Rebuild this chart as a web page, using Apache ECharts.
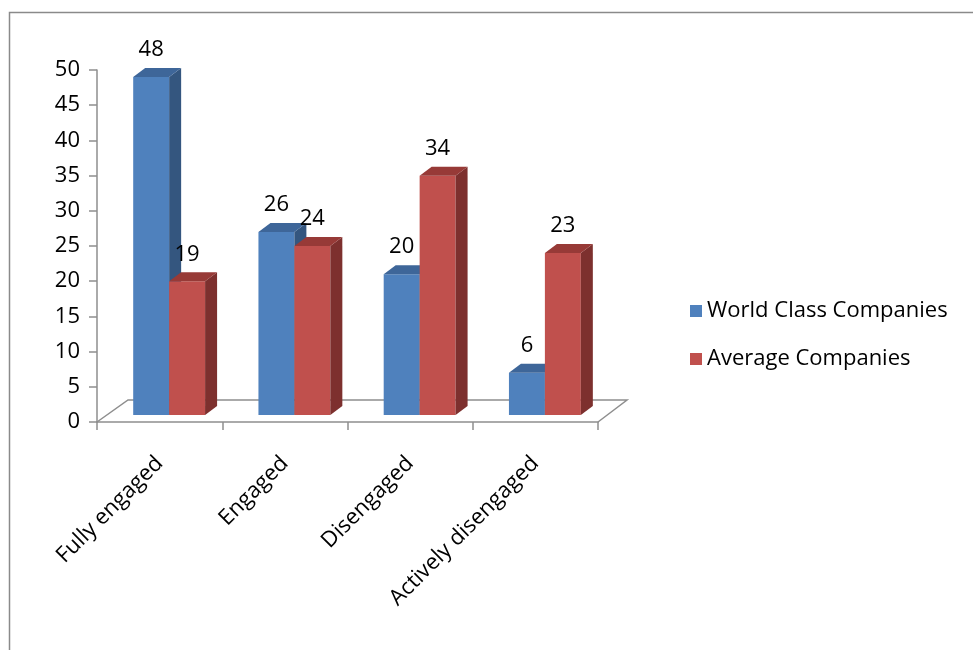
<!DOCTYPE html>
<html><head><meta charset="utf-8">
<script src="https://cdn.jsdelivr.net/npm/echarts@6/dist/echarts.min.js"></script>
<style>html,body{margin:0;padding:0;background:#fff}#c{width:973px;height:650px}</style>
</head><body><div id="c"></div>
<script>
const categories = ['Fully engaged', 'Engaged', 'Disengaged', 'Actively disengaged'];
const worldClass = [48, 26, 20, 6];
const average = [19, 24, 34, 23];
const seriesNames = ['World Class Companies', 'Average Companies'];
const yMin = 0, yMax = 50, yInterval = 5;

const FONT = 'Open Sans';
const FS = 22;
const faces = [
  {front: '#4F81BD', side: '#34567F', top: '#3E6699'},
  {front: '#C0504D', side: '#7D302E', top: '#973A37'}
];

function makeBar(k) {
  return function (params, api) {
    const idx = api.value(0), v = api.value(1);
    const band = api.size([1, 0])[0];
    const c = api.coord([idx, 0]);
    const t = api.coord([idx, v]);
    const w = band * 0.287;
    const sx = band * 0.076, sy = -7;
    const dx = 12, dy = -9;
    const x0 = c[0] + sx + (k === 0 ? -w : 0);
    const yb = c[1] + sy, yt = t[1] + sy;
    const f = faces[k];
    return {
      type: 'group',
      children: [
        {type: 'rect', shape: {x: x0, y: yt, width: w, height: yb - yt}, style: {fill: f.front}},
        {type: 'polygon', shape: {points: [[x0 + w, yt], [x0 + w + dx, yt + dy], [x0 + w + dx, yb + dy], [x0 + w, yb]]}, style: {fill: f.side}},
        {type: 'polygon', shape: {points: [[x0, yt], [x0 + dx, yt + dy], [x0 + w + dx, yt + dy], [x0 + w, yt]]}, style: {fill: f.top}},
        {type: 'text', style: {text: String(v), x: x0 + w / 2, y: yt + dy - 7, textAlign: 'center', textVerticalAlign: 'bottom', fill: '#000', font: FS + 'px "' + FONT + '"'}}
      ]
    };
  };
}

function floorItem(params, api) {
  const cs = params.coordSys;
  const x = cs.x, y = cs.y, w = cs.width, h = cs.height;
  const bx = 31, by = -22;
  const st = {stroke: '#8E8E8E', lineWidth: 1.5, fill: null};
  return {
    type: 'group',
    children: [
      {type: 'polyline', shape: {points: [[x, y + h], [x + bx, y + h + by], [x + w + bx - 2, y + h + by], [x + w, y + h]]}, style: st}
    ]
  };
}

const chart = echarts.init(document.getElementById('c'), null, {renderer: 'canvas'});
chart.setOption({
  animation: false,
  backgroundColor: '#fff',
  textStyle: {fontFamily: FONT},
  graphic: [{type: 'rect', left: 7, top: 10, shape: {width: 1000, height: 700}, style: {fill: null, stroke: '#8A8A8A', lineWidth: 1.5}, z: -1}],
  grid: {left: 97, right: 375, top: 70, bottom: 228},
  legend: {
    orient: 'vertical', left: 685, top: 295,
    itemWidth: 12, itemHeight: 12, itemGap: 26, icon: 'rect',
    textStyle: {fontSize: FS, color: '#000', fontFamily: FONT},
    data: seriesNames
  },
  xAxis: {
    type: 'category', data: categories, boundaryGap: true,
    axisLine: {lineStyle: {color: '#8E8E8E', width: 1.5}},
    axisTick: {show: true, length: 8, lineStyle: {color: '#8E8E8E', width: 1.5}},
    axisLabel: {rotate: 45, margin: 38, fontSize: FS, color: '#000', fontFamily: FONT, interval: 0}
  },
  yAxis: {
    type: 'value', min: yMin, max: yMax, interval: yInterval,
    axisLine: {show: true, lineStyle: {color: '#8E8E8E', width: 1.5}},
    axisTick: {show: true, length: 8, lineStyle: {color: '#8E8E8E', width: 1.5}},
    splitLine: {show: false},
    axisLabel: {margin: 17, fontSize: FS, color: '#000', fontFamily: FONT}
  },
  series: [
    {type: 'custom', name: '_floor', renderItem: floorItem, data: [[0, 0]], silent: true, z: 1},
    {type: 'custom', name: seriesNames[0], renderItem: makeBar(0), itemStyle: {color: faces[0].front},
     data: worldClass.map((v, i) => [i, v]), z: 2},
    {type: 'custom', name: seriesNames[1], renderItem: makeBar(1), itemStyle: {color: faces[1].front},
     data: average.map((v, i) => [i, v]), z: 3}
  ]
});
</script>
</body></html>
